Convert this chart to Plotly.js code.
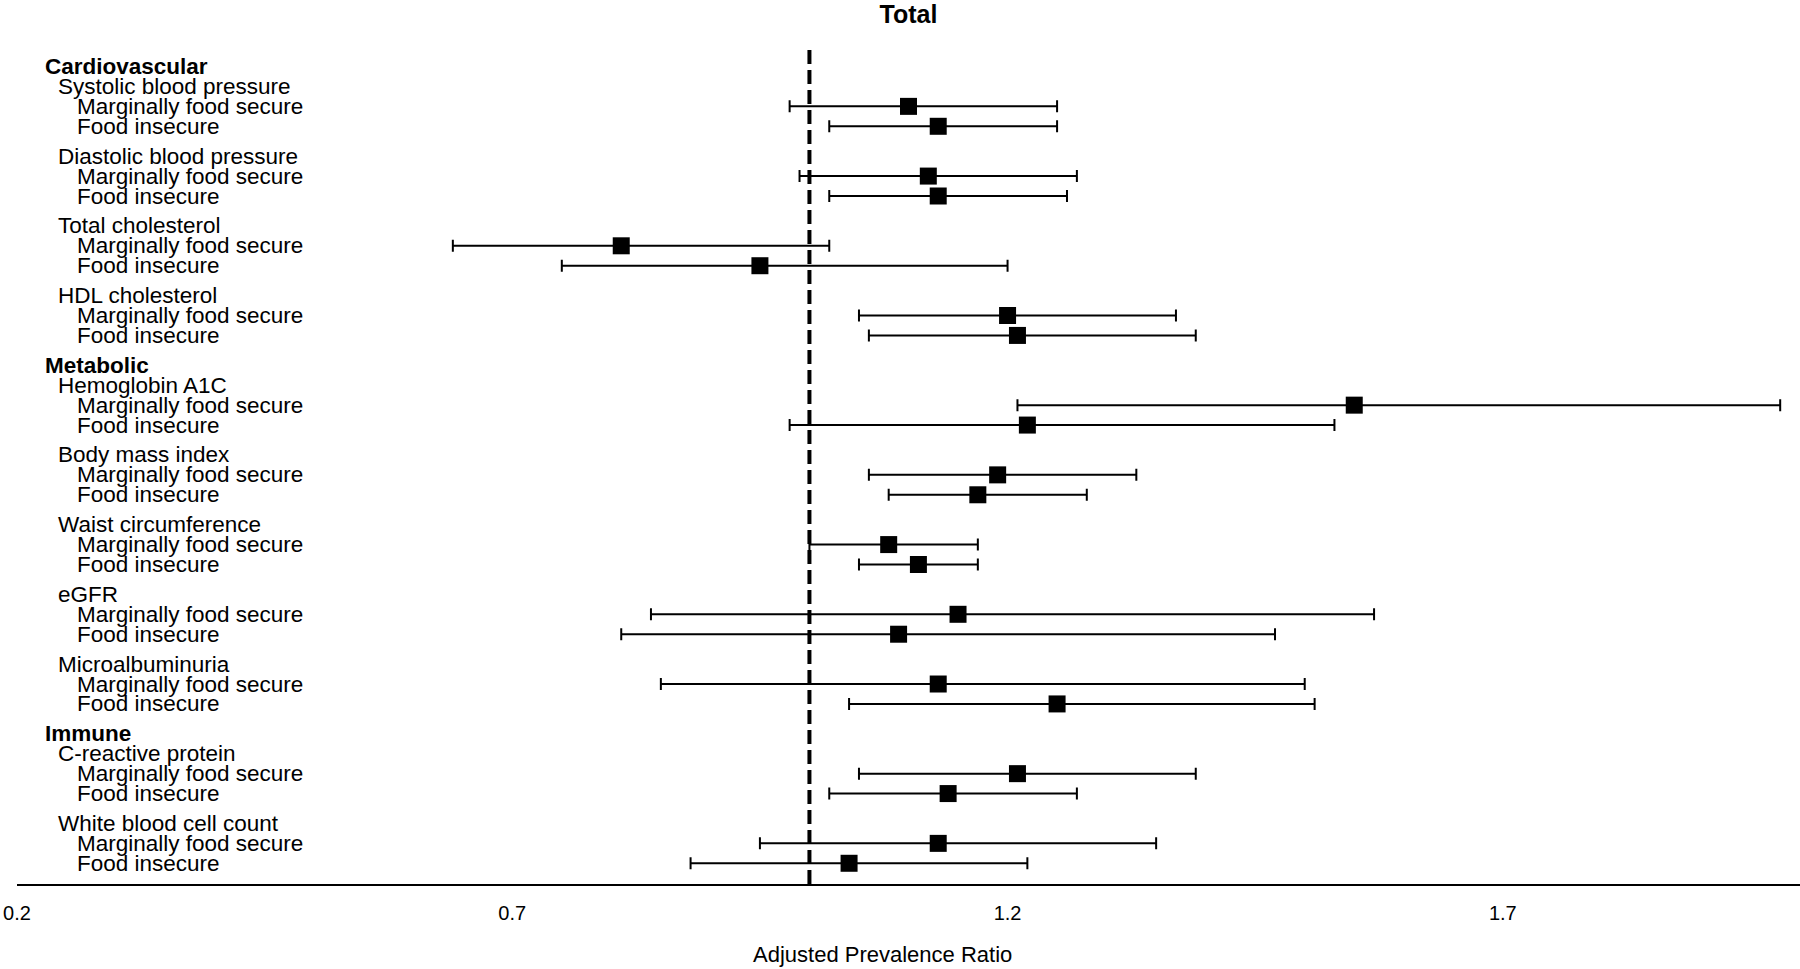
<!DOCTYPE html>
<html>
<head>
<meta charset="utf-8">
<script src="https://cdn.plot.ly/plotly-3.0.1.min.js"></script>
<style>html,body{margin:0;padding:0;background:#fff;}#chart{width:1800px;height:969px;}</style>
</head>
<body>
<div id="chart"></div>
<script>
// ---- data ----
const domains = ["Cardiovascular", "Metabolic", "Immune"];
const measures = ["Systolic blood pressure", "Diastolic blood pressure", "Total cholesterol", "HDL cholesterol",
  "Hemoglobin A1C", "Body mass index", "Waist circumference", "eGFR", "Microalbuminuria",
  "C-reactive protein", "White blood cell count"];
const measureDomain = [0, 0, 0, 0, 1, 1, 1, 1, 1, 2, 2];
const groups = ["Marginally food secure", "Food insecure"];

const prMarginal    = [1.10, 1.12, 0.81, 1.20, 1.55, 1.19, 1.08, 1.15, 1.13, 1.21, 1.13];
const lowerMarginal = [0.98, 0.99, 0.64, 1.05, 1.21, 1.06, 1.00, 0.84, 0.85, 1.05, 0.95];
const upperMarginal = [1.25, 1.27, 1.02, 1.37, 1.98, 1.33, 1.17, 1.57, 1.50, 1.39, 1.35];

const prInsecure    = [1.13, 1.13, 0.95, 1.21, 1.22, 1.17, 1.11, 1.09, 1.25, 1.14, 1.04];
const lowerInsecure = [1.02, 1.02, 0.75, 1.06, 0.98, 1.08, 1.05, 0.81, 1.04, 1.02, 0.88];
const upperInsecure = [1.25, 1.26, 1.20, 1.39, 1.53, 1.28, 1.17, 1.47, 1.51, 1.27, 1.22];

const xTicks = [0.2, 0.7, 1.2, 1.7];

// ---- layout of rows (forest-plot structure) ----
const rowMarg = [], rowIns = [], labels = [];
let pos = 0, lastDomain = -1;
measures.forEach((m, i) => {
  if (measureDomain[i] !== lastDomain) {
    if (i > 0) pos += 0.5;
    labels.push({text: domains[measureDomain[i]], y: pos, level: 0});
    pos += 1;
    lastDomain = measureDomain[i];
  } else {
    pos += 0.5;
  }
  labels.push({text: m, y: pos, level: 1}); pos += 1;
  labels.push({text: groups[0], y: pos, level: 2}); rowMarg.push(pos); pos += 1;
  labels.push({text: groups[1], y: pos, level: 2}); rowIns.push(pos); pos += 1;
});

const FIG_W = 1800, ML = 17, MR = 0;
const plotW = FIG_W - ML - MR;
const indentPx = [43.5, 56.5, 75.5];
const FONT = "Liberation Sans, Arial, Helvetica, sans-serif";

function trace(pr, lo, hi, ys, name) {
  return {
    type: "scatter", mode: "markers", name: name,
    x: pr, y: ys,
    marker: {symbol: "square", size: 17, color: "#000"},
    error_x: {
      type: "data", symmetric: false,
      array: hi.map((h, i) => h - pr[i]),
      arrayminus: lo.map((l, i) => pr[i] - l),
      color: "#000", thickness: 2, width: 6
    },
    hoverinfo: "x+name"
  };
}

const data = [
  trace(prMarginal, lowerMarginal, upperMarginal, rowMarg, groups[0]),
  trace(prInsecure, lowerInsecure, upperInsecure, rowIns, groups[1])
];

const annotations = labels.map(l => ({
  text: l.level === 0 ? "<b>" + l.text + "</b>" : l.text,
  xref: "paper", yref: "y",
  x: (indentPx[l.level] - ML) / plotW, y: l.y,
  xanchor: "left", yanchor: "middle",
  showarrow: false, borderpad: 0,
  font: {family: FONT, size: 22.5, color: "#000"}
}));

// x-axis title, centred where the reference draws it
annotations.push({
  text: "Adjusted Prevalence Ratio",
  xref: "paper", yref: "paper",
  x: (882 - ML) / plotW, y: -(954 - 884) / (969 - 49 - 85),
  xanchor: "center", yanchor: "middle", showarrow: false, borderpad: 0,
  font: {family: FONT, size: 22, color: "#000"}
});

const layout = {
  width: 1800, height: 969,
  margin: {l: ML, r: MR, t: 49, b: 85},
  paper_bgcolor: "#fff", plot_bgcolor: "#fff",
  showlegend: false,
  title: {
    text: "<b>Total</b>",
    font: {family: FONT, size: 25, color: "#000"},
    x: 0.5, xref: "paper", y: 1 - 14 / 969, yref: "container", yanchor: "middle"
  },
  xaxis: {
    range: [0.2, 2.0],
    tickvals: xTicks, ticktext: xTicks.map(v => v.toFixed(1)),
    showgrid: false, zeroline: false,
    showline: true, linecolor: "#000", linewidth: 2,
    ticks: "", ticklabelstandoff: 10,
    tickfont: {family: FONT, size: 20, color: "#000"}
  },
  yaxis: {
    range: [41.04, -0.88],
    showgrid: false, zeroline: false, showline: false,
    showticklabels: false, ticks: ""
  },
  shapes: [{
    type: "line", xref: "x", yref: "paper",
    x0: 1, x1: 1, y0: 0, y1: 1,
    line: {color: "#000", width: 4, dash: "14px,6px"},
    layer: "below"
  }],
  annotations: annotations
};

Plotly.newPlot("chart", data, layout, {displayModeBar: false});
</script>
</body>
</html>
